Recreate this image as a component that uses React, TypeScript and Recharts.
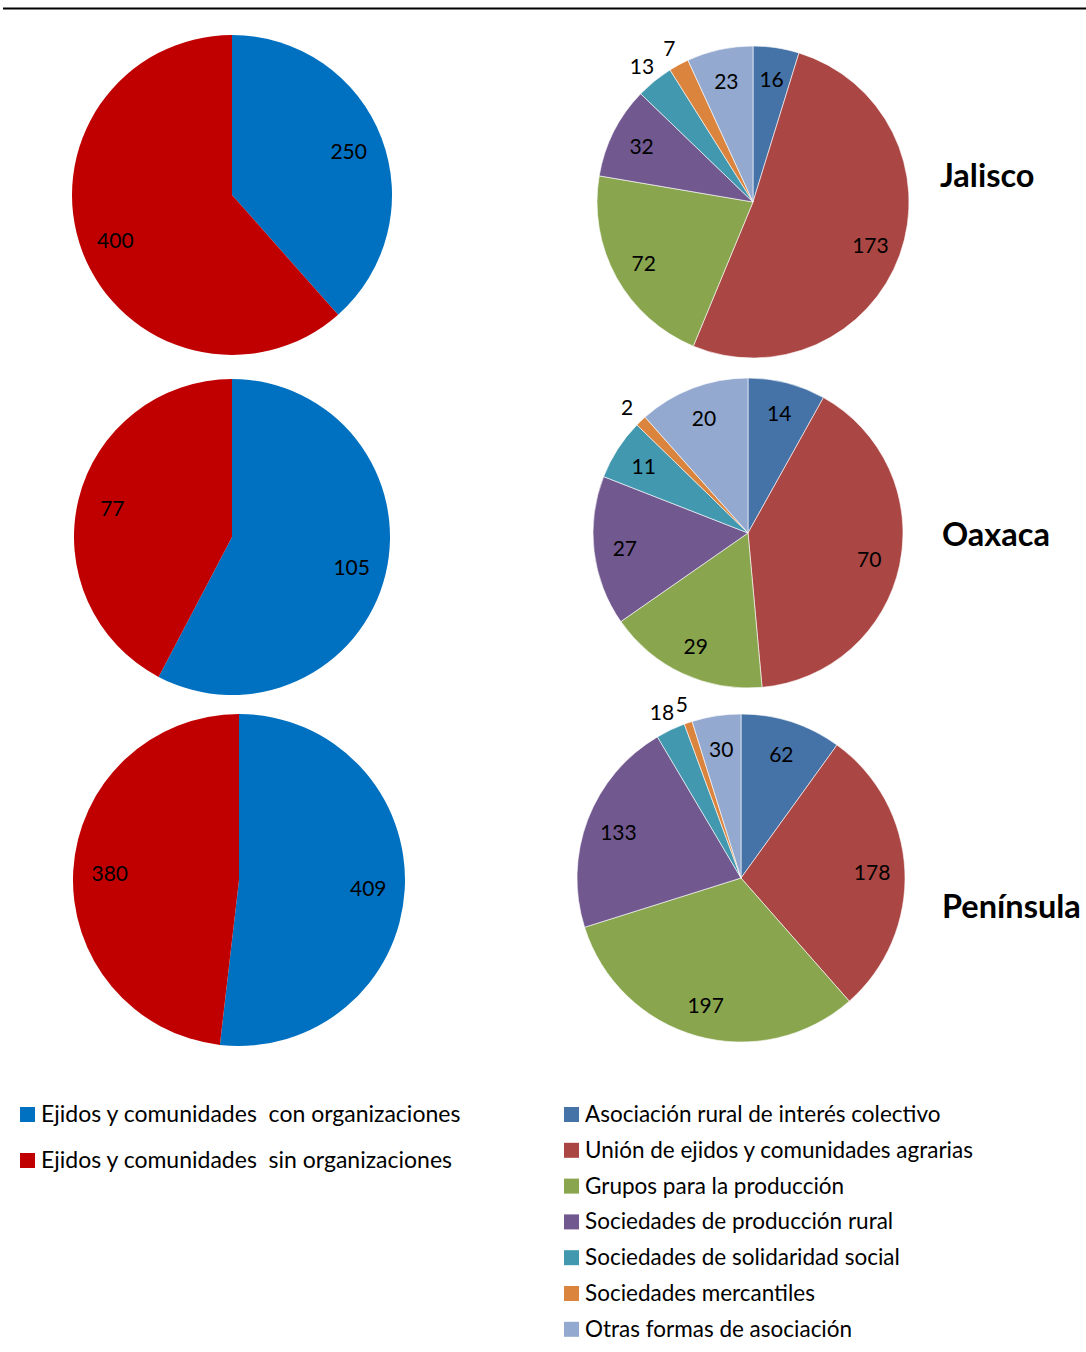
import React from 'react';
import { PieChart, Pie, Cell } from 'recharts';

const regions = ['Jalisco', 'Oaxaca', 'Península'];

const orgCategories = [
  'Ejidos y comunidades  con organizaciones',
  'Ejidos y comunidades  sin organizaciones',
];
const orgColors = ['#0070C0', '#C00000'];
const jaliscoOrg = [250, 400];
const oaxacaOrg = [105, 77];
const peninsulaOrg = [409, 380];

const assocCategories = [
  'Asociación rural de interés colectivo',
  'Unión de ejidos y comunidades agrarias',
  'Grupos para la producción',
  'Sociedades de producción rural',
  'Sociedades de solidaridad social',
  'Sociedades mercantiles',
  'Otras formas de asociación',
];
const assocColors = ['#4572A7', '#AA4643', '#89A54E', '#71588F', '#4198AF', '#DB843D', '#93A9CF'];
const jaliscoAssoc = [16, 173, 72, 32, 13, 7, 23];
const oaxacaAssoc = [14, 70, 29, 27, 11, 2, 20];
const peninsulaAssoc = [62, 178, 197, 133, 18, 5, 30];

const FONT = 'Lato, "Open Sans", sans-serif';
const RAD = Math.PI / 180;

const toData = (cats: string[], vals: number[]) => cats.map((name, i) => ({ name, value: vals[i] }));

const makeLabel = (insideFrac: number) => (props: any) => {
  const { cx, cy, midAngle, outerRadius, value, percent } = props;
  const outside = percent < 0.045;
  const r = outside ? outerRadius + 20 : outerRadius * insideFrac;
  const x = cx + r * Math.cos(-midAngle * RAD);
  const y = cy + r * Math.sin(-midAngle * RAD);
  return (
    <text x={x} y={y} fill="#000" fontSize={21} fontFamily={FONT} textAnchor="middle" dominantBaseline="central">
      {value}
    </text>
  );
};

const orgPies = [
  { vals: jaliscoOrg, cx: 232, cy: 195, r: 160 },
  { vals: oaxacaOrg, cx: 232, cy: 537, r: 158 },
  { vals: peninsulaOrg, cx: 239, cy: 880, r: 166 },
];
const assocPies = [
  { vals: jaliscoAssoc, cx: 753, cy: 202, r: 156 },
  { vals: oaxacaAssoc, cx: 748, cy: 533, r: 155 },
  { vals: peninsulaAssoc, cx: 741, cy: 878, r: 164 },
];
const titlePos = [
  { x: 940, y: 187 },
  { x: 942, y: 546 },
  { x: 942, y: 918 },
];

export default function App() {
  return (
    <div style={{ position: 'absolute', left: 0, top: 0, width: 1086, height: 1352, background: '#fff' }}>
      <div style={{ position: 'absolute', left: 0, top: 0 }}>
        <PieChart width={1086} height={1352} margin={{ top: 0, right: 0, bottom: 0, left: 0 }}>
          {orgPies.map((p, i) => (
            <Pie
              key={'org' + i}
              data={toData(orgCategories, p.vals)}
              dataKey="value"
              nameKey="name"
              cx={p.cx}
              cy={p.cy}
              outerRadius={p.r}
              startAngle={90}
              endAngle={-270}
              isAnimationActive={false}
              label={makeLabel(0.78)}
              labelLine={false}
              stroke="none"
            >
              {p.vals.map((_, j) => (
                <Cell key={j} fill={orgColors[j]} />
              ))}
            </Pie>
          ))}
          {assocPies.map((p, i) => (
            <Pie
              key={'assoc' + i}
              data={toData(assocCategories, p.vals)}
              dataKey="value"
              nameKey="name"
              cx={p.cx}
              cy={p.cy}
              outerRadius={p.r}
              startAngle={90}
              endAngle={-270}
              isAnimationActive={false}
              label={makeLabel(0.8)}
              labelLine={false}
              stroke="#ffffff"
              strokeWidth={0.6}
            >
              {p.vals.map((_, j) => (
                <Cell key={j} fill={assocColors[j]} />
              ))}
            </Pie>
          ))}
        </PieChart>
      </div>
      <svg width={1086} height={1352} style={{ position: 'absolute', left: 0, top: 0, pointerEvents: 'none' }}>
        <line x1={3} x2={1086} y1={8.5} y2={8.5} stroke="#000" strokeWidth={2} />
        {regions.map((r, i) => (
          <text key={r} x={titlePos[i].x} y={titlePos[i].y} fontFamily={FONT} fontWeight="bold" fontSize={32.5} fill="#000">
            {r}
          </text>
        ))}
        {orgCategories.map((c, i) => (
          <g key={c}>
            <rect x={20} y={1107 + i * 46} width={15} height={15} fill={orgColors[i]} />
            <text x={41} y={1122 + i * 46} fontFamily={FONT} fontSize={23} fill="#000" style={{ whiteSpace: 'pre' }}>
              {c}
            </text>
          </g>
        ))}
        {assocCategories.map((c, i) => (
          <g key={c}>
            <rect x={564} y={1107 + i * 35.8} width={15} height={15} fill={assocColors[i]} />
            <text x={585} y={1122 + i * 35.8} fontFamily={FONT} fontSize={22.5} fill="#000">
              {c}
            </text>
          </g>
        ))}
      </svg>
    </div>
  );
}
